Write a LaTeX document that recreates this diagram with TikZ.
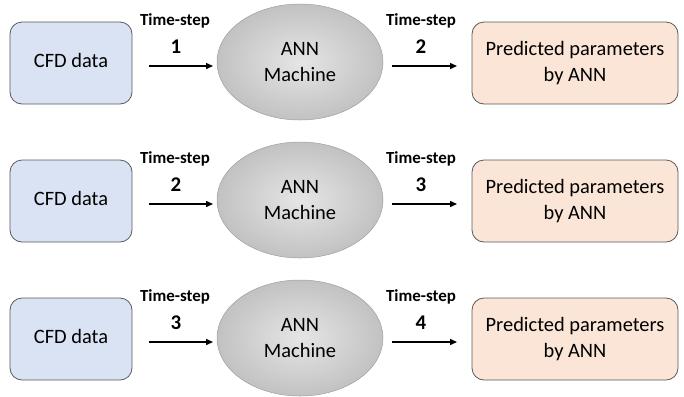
\documentclass[tikz,border=0pt]{standalone}
\usepackage{fontspec}
\setmainfont{Carlito}
\usetikzlibrary{arrows.meta,shapes.geometric}
\definecolor{cfdfill}{HTML}{DAE3F3}
\definecolor{predfill}{HTML}{FBE5D6}
\definecolor{edgegray}{HTML}{5A5A5A}
\tikzset{
  cfdbox/.style={draw=edgegray, line width=0.8bp, fill=cfdfill, rounded corners=12bp,
    minimum width=122bp, minimum height=82bp, inner sep=0pt, font=\fontsize{20.5}{24}\selectfont},
  predbox/.style={draw=edgegray, line width=0.8bp, fill=predfill, rounded corners=12bp,
    minimum width=206bp, minimum height=82bp, inner sep=0pt, align=center,
    font=\fontsize{20.5}{26}\selectfont},
  annell/.style={ellipse, draw=gray!75, line width=0.5bp, inner color=gray!20, outer color=gray!48,
    minimum width=166bp, minimum height=116bp, inner sep=0pt, align=center,
    font=\fontsize{20.5}{27}\selectfont},
  flow/.style={-{Triangle[length=7bp,width=6bp]}, line width=1.4bp},
  tslabel/.style={font=\bfseries\fontsize{17}{19}\selectfont, inner sep=0pt},
  numlabel/.style={font=\bfseries\fontsize{21}{23}\selectfont, inner sep=0pt}
}
\begin{document}
\begin{tikzpicture}[x=1bp, y=-1bp]
\useasboundingbox (0,0) rectangle (684,396);
\foreach \r/\a/\b [count=\i] in {0/1/2, 138/2/3, 276/3/4} {
  \node[cfdbox] (cfd\i) at (71, 63+\r) {\raisebox{6bp}{CFD data}};
  \node[annell] (ann\i) at (300, 62+\r) {ANN\\Machine};
  \node[predbox] (pred\i) at (575, 63+\r) {Predicted parameters\\by ANN};
  \coordinate (ia\i) at (149, 66+\r);
  \coordinate (ib\i) at (213, 66+\r);
  \coordinate (oa\i) at (392, 66+\r);
  \coordinate (ob\i) at (457, 66+\r);
  \draw[flow] (ia\i) -- (ib\i);
  \draw[flow] (oa\i) -- (ob\i);
  \node[tslabel] (tsa\i) at (175, 21+\r) {Time-step};
  \node[numlabel] (na\i) at (176, 47+\r) {\a};
  \node[tslabel] (tsb\i) at (421, 21+\r) {Time-step};
  \node[numlabel] (nb\i) at (421, 47+\r) {\b};
}
\end{tikzpicture}
\end{document}
